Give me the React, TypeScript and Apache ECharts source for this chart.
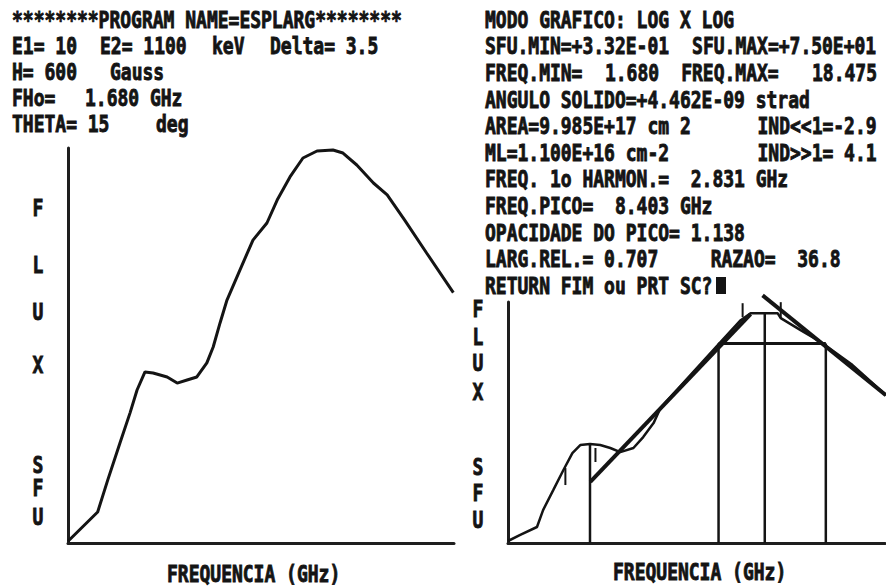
import React, { useEffect, useRef } from "react";
import * as echarts from "echarts";

// ---- Data (log-log, GHz vs SFU) ----
const leftFreq = [1.68, 2.02, 2.15, 2.32, 2.47, 2.58, 2.71, 2.85, 3.11, 3.31, 3.52, 3.74, 3.98, 4.14, 4.32, 4.51, 4.89, 5.3, 5.78, 6.16, 6.67, 7.23, 7.89, 8.71, 9.27, 10.1, 11.2, 12.2, 13.6, 15.6, 18.4];
const leftFlux = [0.34, 0.508, 0.787, 1.31, 1.98, 2.71, 3.47, 3.42, 3.24, 2.98, 3.11, 3.24, 3.93, 4.89, 6.8, 9.31, 14.1, 21.2, 26.8, 36.7, 50.4, 65.4, 72.0, 73.0, 70.0, 59.4, 46.4, 39.4, 27.9, 17.7, 10.3];

const rightFreq = [1.68, 1.81, 2.02, 2.1, 2.24, 2.39, 2.53, 2.66, 2.83, 3.02, 3.22, 3.43, 3.73, 3.97, 4.24, 4.43, 5.36, 6.49, 7.38, 7.86, 9.33, 9.52, 10.8, 12.3, 14.9, 18.6];
const rightFlux = [0.348, 0.401, 0.485, 0.724, 1.16, 1.87, 2.79, 3.38, 3.46, 3.38, 3.15, 2.86, 3.15, 4.08, 5.68, 8.11, 17.7, 38.6, 65.0, 76.8, 76.8, 68.2, 51.4, 38.6, 23.0, 11.0];

const lowFitFreq = [2.835, 7.86];
const lowFitFlux = [1.41, 75.0];
const highFitFreq = [8.48, 18.58];
const highFitFlux = [117, 11.0];

const markerFreq = [2.83, 6.41, 8.6, 12.68];
const markerTopFlux = [3.46, 37.5, 76, 37.5];
const halfFreq = [6.41, 12.68];
const halfFlux = [37.5, 37.5];

const tickFreq = [2.42, 2.93, 7.47, 9.52];
const tickLowFlux = [1.31, 2.26, 69.8, 68.2];
const tickHighFlux = [1.96, 3.15, 97.2, 99.6];

const freqMin = 1.68;
const freqMax = 18.475;
const sfuMin = 0.332;
const sfuMaxLeft = 75;
const sfuMaxRight = 100;

// ---- Texts ----
const leftRows: [number, string][][] = [
  [[12, "********PROGRAM NAME=ESPLARG********"]],
  [[12, "E1= 10"], [100, "E2= 1100"], [212, "keV"], [270, "Delta= 3.5"]],
  [[12, "H= 600"], [110, "Gauss"]],
  [[12, "FHo="], [85, "1.680 GHz"]],
  [[12, "THETA= 15"], [156, "deg"]],
];
const RX = 485;
const CW = 10.9;
const rightRows: [number, string][][] = [
  [[0, "MODO GRAFICO: LOG X LOG"]],
  [[0, "SFU.MIN=+3.32E-01"], [19, "SFU.MAX=+7.50E+01"]],
  [[0, "FREQ.MIN="], [11, "1.680"], [18, "FREQ.MAX="], [30, "18.475"]],
  [[0, "ANGULO SOLIDO=+4.462E-09 strad"]],
  [[0, "AREA=9.985E+17 cm 2"], [25, "IND<<1=-2.9"]],
  [[0, "ML=1.100E+16 cm-2"], [25, "IND>>1= 4.1"]],
  [[0, "FREQ. 1o HARMON.=  2.831 GHz"]],
  [[0, "FREQ.PICO=  8.403 GHz"]],
  [[0, "OPACIDADE DO PICO= 1.138"]],
  [[0, "LARG.REL.= 0.707"], [20.7, "RAZAO=  36.8"]],
  [[0, "RETURN FIM ou PRT SC?"]],
];
const fluxLetters = ["F", "L", "U", "X", "S", "F", "U"];
const leftLetterY = [208, 265, 312, 365, 465, 488, 517];
const rightLetterY = [309, 337, 363, 392, 467, 493, 520];
const xTitle = "FREQUENCIA (GHz)";

const INK = "#141414";
const FONT = '"DejaVu Sans Mono", monospace';

function txt(x: number, y: number, text: string, align = "left") {
  return {
    type: "text",
    x,
    y,
    scaleY: 1.28,
    silent: true,
    style: {
      text,
      fontFamily: FONT,
      fontSize: 18,
      fontWeight: "bold",
      fill: INK,
      stroke: INK,
      lineWidth: 0.7,
      align,
      verticalAlign: "middle",
    },
  };
}

const zip = (xs: number[], ys: number[]) => xs.map((x, i) => [x, ys[i]]);

export default function App() {
  const ref = useRef<HTMLDivElement>(null);
  useEffect(() => {
    if (!ref.current) return;
    const chart = echarts.init(ref.current, undefined, { renderer: "svg" });

    const axisCommon = {
      type: "log",
      logBase: 10,
      axisLine: { show: true, onZero: false, lineStyle: { color: "#1e1e1e", width: 3 } },
      axisTick: { show: false },
      axisLabel: { show: false },
      splitLine: { show: false },
    };

    const graphics: any[] = [];
    leftRows.forEach((row, i) =>
      row.forEach(([x, s]) => graphics.push(txt(x, 20 + 26 * i, s)))
    );
    rightRows.forEach((row, i) =>
      row.forEach(([c, s]) => graphics.push(txt(RX + c * CW, 20 + 26.6 * i, s)))
    );
    graphics.push({ type: "rect", shape: { x: 716, y: 277, width: 10, height: 17 }, style: { fill: INK } });
    fluxLetters.forEach((l, i) => {
      graphics.push(txt(38, leftLetterY[i], l, "center"));
      graphics.push(txt(478, rightLetterY[i], l, "center"));
    });
    graphics.push(txt(167, 574, xTitle));
    graphics.push(txt(613, 572, xTitle));

    const seg = (data: number[][], width: number, extra: any = {}) => ({
      type: "line",
      xAxisIndex: 1,
      yAxisIndex: 1,
      data,
      showSymbol: false,
      symbol: "none",
      silent: true,
      lineStyle: { color: INK, width },
      ...extra,
    });

    const series: any[] = [
      {
        type: "line",
        xAxisIndex: 0,
        yAxisIndex: 0,
        data: zip(leftFreq, leftFlux),
        showSymbol: false,
        symbol: "none",
        lineStyle: { color: INK, width: 3 },
      },
      seg(zip(rightFreq, rightFlux), 2.5),
      seg(zip(lowFitFreq, lowFitFlux), 4),
      seg(zip(highFitFreq, highFitFlux), 4, { clip: false }),
      seg(zip(halfFreq, halfFlux), 3),
    ];
    markerFreq.forEach((f, i) => {
      series.push(seg([[f, sfuMin], [f, markerTopFlux[i]]], 2.5));
    });
    tickFreq.forEach((f, i) => {
      series.push(seg([[f, tickLowFlux[i]], [f, tickHighFlux[i]]], 2, { clip: false }));
    });

    chart.setOption({
      animation: false,
      backgroundColor: "#ffffff",
      grid: [
        { left: 68, top: 148, width: 386, height: 395 },
        { left: 508, top: 302, width: 377, height: 241 },
      ],
      xAxis: [
        { ...axisCommon, gridIndex: 0, min: freqMin, max: freqMax },
        { ...axisCommon, gridIndex: 1, min: freqMin, max: freqMax },
      ],
      yAxis: [
        { ...axisCommon, gridIndex: 0, min: sfuMin, max: sfuMaxLeft },
        { ...axisCommon, gridIndex: 1, min: sfuMin, max: sfuMaxRight },
      ],
      series,
      graphic: graphics,
    });
    return () => chart.dispose();
  }, []);
  return (
    <div
      ref={ref}
      style={{ position: "fixed", left: 0, top: 0, width: 886, height: 587, background: "#fff" }}
    />
  );
}
